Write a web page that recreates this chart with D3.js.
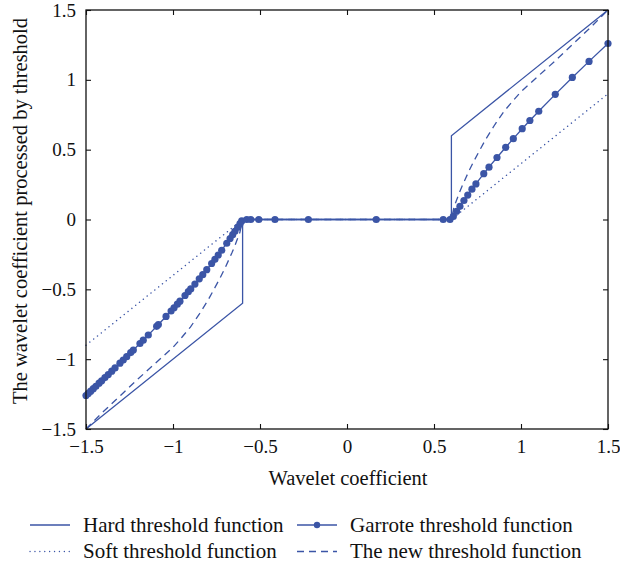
<!DOCTYPE html>
<html>
<head>
<meta charset="utf-8">
<script src="https://cdn.jsdelivr.net/npm/d3@7"></script>
<style>
  body { margin: 0; background: #fff; }
  svg text { font-family: "Liberation Serif", "DejaVu Serif", serif; fill: #111; }
</style>
</head>
<body>
<svg id="chart" width="620" height="565"></svg>
<script>
var xTicks = [-1.5, -1, -0.5, 0, 0.5, 1, 1.5];
var yTicks = [-1.5, -1, -0.5, 0, 0.5, 1, 1.5];

var seriesNames = ["Hard threshold function", "Soft threshold function",
                   "Garrote threshold function", "The new threshold function"];

var hardX = [-1.5, -0.6, -0.6, 0.6, 0.6, 1.5];
var hardY = [-1.5, -0.6, 0, 0, 0.6, 1.5];

var softX = [-1.5, -0.6, 0.6, 1.5];
var softY = [-0.9, 0, 0, 0.9];

var garroteX = [-1.5, -1.487, -1.473, -1.458, -1.443, -1.425, -1.41, -1.391, -1.372, -1.352,
  -1.333, -1.305, -1.286, -1.266, -1.243, -1.228, -1.19, -1.171, -1.142, -1.094,
  -1.084, -1.04, -1.011, -0.994, -0.975, -0.96, -0.931, -0.912, -0.898, -0.874,
  -0.849, -0.829, -0.806, -0.778, -0.759, -0.74, -0.72, -0.691, -0.672, -0.657,
  -0.644, -0.628, -0.615, -0.605, -0.576, -0.553, -0.507, -0.414, -0.222, 0.168,
  0.553, 0.592, 0.611, 0.63, 0.649, 0.672, 0.694, 0.718, 0.741, 0.786,
  0.816, 0.862, 0.912, 0.956, 1.007, 1.051, 1.102, 1.197, 1.295, 1.391, 1.5];
var garroteY = [-1.26, -1.245, -1.229, -1.211, -1.194, -1.172, -1.155, -1.132, -1.11, -1.086,
  -1.063, -1.029, -1.006, -0.982, -0.953, -0.935, -0.888, -0.864, -0.827, -0.765,
  -0.752, -0.694, -0.655, -0.632, -0.606, -0.585, -0.544, -0.517, -0.497, -0.462,
  -0.425, -0.395, -0.359, -0.315, -0.285, -0.254, -0.22, -0.17, -0.136, -0.109,
  -0.085, -0.055, -0.03, -0.01, 0, 0, 0, 0, 0, 0,
  0, 0, 0.022, 0.059, 0.094, 0.136, 0.175, 0.217, 0.255, 0.328,
  0.375, 0.444, 0.517, 0.579, 0.65, 0.709, 0.775, 0.896, 1.017, 1.132, 1.26];

var newX = [-1.5, -1.4, -1.3, -1.2, -1.1, -1.0, -0.95, -0.9, -0.85, -0.8,
  -0.76, -0.73, -0.7, -0.68, -0.66, -0.645, -0.63, -0.615, -0.605, -0.6,
  0.6, 0.605, 0.615, 0.63, 0.645, 0.66, 0.68, 0.7, 0.73, 0.76,
  0.8, 0.85, 0.9, 0.95, 1.0, 1.1, 1.2, 1.3, 1.4, 1.5];
var newY = [-1.5, -1.375, -1.258, -1.14, -1.028, -0.915, -0.845, -0.77, -0.68, -0.58,
  -0.49, -0.42, -0.345, -0.29, -0.235, -0.19, -0.14, -0.09, -0.03, 0,
  0, 0.03, 0.09, 0.14, 0.19, 0.235, 0.29, 0.345, 0.42, 0.49,
  0.58, 0.68, 0.77, 0.845, 0.915, 1.028, 1.14, 1.258, 1.375, 1.5];

var blue = "#3b55a6";

var svg = d3.select("#chart"),
    margin = {top: 10, right: 12, bottom: 136, left: 86},
    width = +svg.attr("width") - margin.left - margin.right,
    height = +svg.attr("height") - margin.top - margin.bottom,
    g = svg.append("g").attr("transform", "translate(" + margin.left + "," + margin.top + ")");

var x = d3.scaleLinear().domain([-1.5, 1.5]).range([0, width]);
var y = d3.scaleLinear().domain([-1.5, 1.5]).range([height, 0]);

function fmt(d) { return d < 0 ? "\u2212" + Math.abs(d) : String(d); }

function pts(xs, ys) { return xs.map(function(v, i) { return [v, ys[i]]; }); }

var line = d3.line().x(function(d) { return x(d[0]); }).y(function(d) { return y(d[1]); });

/* curves */
g.append("path").datum(pts(softX, softY))
    .attr("d", line).attr("fill", "none").attr("stroke", blue)
    .attr("stroke-width", 1.4).attr("stroke-dasharray", "0.1 4.8").attr("stroke-linecap", "round");

g.append("path").datum(pts(newX, newY))
    .attr("d", line).attr("fill", "none").attr("stroke", blue)
    .attr("stroke-width", 1.3).attr("stroke-dasharray", "7 5");

g.append("path").datum(pts(hardX, hardY))
    .attr("d", line).attr("fill", "none").attr("stroke", blue).attr("stroke-width", 1.3);

g.append("path").datum(pts(garroteX, garroteY))
    .attr("d", line).attr("fill", "none").attr("stroke", blue).attr("stroke-width", 1.3);

g.append("g").selectAll("circle")
    .data(pts(garroteX, garroteY))
    .enter().append("circle")
      .attr("cx", function(d) { return x(d[0]); })
      .attr("cy", function(d) { return y(d[1]); })
      .attr("r", 3.6)
      .attr("fill", blue);

/* axes, ticks inward on all sides */
function styleAxis(sel) {
  sel.select(".domain").remove();
  sel.selectAll(".tick line").attr("stroke", "#111").attr("stroke-width", 1.1);
  sel.selectAll("text").attr("font-size", 19).attr("fill", "#111")
     .attr("font-family", "Liberation Serif, DejaVu Serif, serif");
}

g.append("g").attr("transform", "translate(0," + height + ")")
    .call(d3.axisBottom(x).tickValues(xTicks).tickFormat(fmt).tickSize(-5).tickPadding(11))
    .call(styleAxis);
g.append("g")
    .call(d3.axisTop(x).tickValues(xTicks).tickFormat("").tickSize(-5))
    .call(styleAxis);
g.append("g")
    .call(d3.axisLeft(y).tickValues(yTicks).tickFormat(fmt).tickSize(-5).tickPadding(10))
    .call(styleAxis);
g.append("g").attr("transform", "translate(" + width + ",0)")
    .call(d3.axisRight(y).tickValues(yTicks).tickFormat("").tickSize(-5))
    .call(styleAxis);

g.append("rect")
    .attr("width", width).attr("height", height)
    .attr("fill", "none").attr("stroke", "#111").attr("stroke-width", 1.3);

/* axis titles */
g.append("text")
    .attr("x", width / 2 + 1).attr("y", height + 56)
    .attr("text-anchor", "middle").attr("font-size", 20.5)
    .text("Wavelet coefficient");

svg.append("text")
    .attr("transform", "translate(27,211) rotate(-90)")
    .attr("text-anchor", "middle").attr("font-size", 20.5)
    .text("The wavelet coefficient processed by threshold");

/* legend */
var legendItems = [
  {name: seriesNames[0], col: 0, row: 0, dash: null, marker: false},
  {name: seriesNames[1], col: 0, row: 1, dash: "0.1 4.8", marker: false},
  {name: seriesNames[2], col: 1, row: 0, dash: null, marker: true},
  {name: seriesNames[3], col: 1, row: 1, dash: "7 5", marker: false}
];

var legend = svg.append("g").attr("font-size", 21)
  .selectAll("g")
  .data(legendItems)
  .enter().append("g")
    .attr("transform", function(d) { return "translate(" + (30 + d.col * 267) + "," + (525 + d.row * 26.5) + ")"; });

legend.append("line")
    .attr("x1", 0).attr("x2", 40).attr("y1", 0).attr("y2", 0)
    .attr("stroke", blue).attr("stroke-width", 1.3)
    .attr("stroke-linecap", function(d) { return d.dash === "0.1 4.8" ? "round" : "butt"; })
    .attr("stroke-dasharray", function(d) { return d.dash; });

legend.filter(function(d) { return d.marker; }).append("circle")
    .attr("cx", 20).attr("cy", 0).attr("r", 3.2).attr("fill", blue);

legend.append("text")
    .attr("x", 53).attr("y", 0).attr("dy", "0.32em")
    .text(function(d) { return d.name; });
</script>
</body>
</html>
